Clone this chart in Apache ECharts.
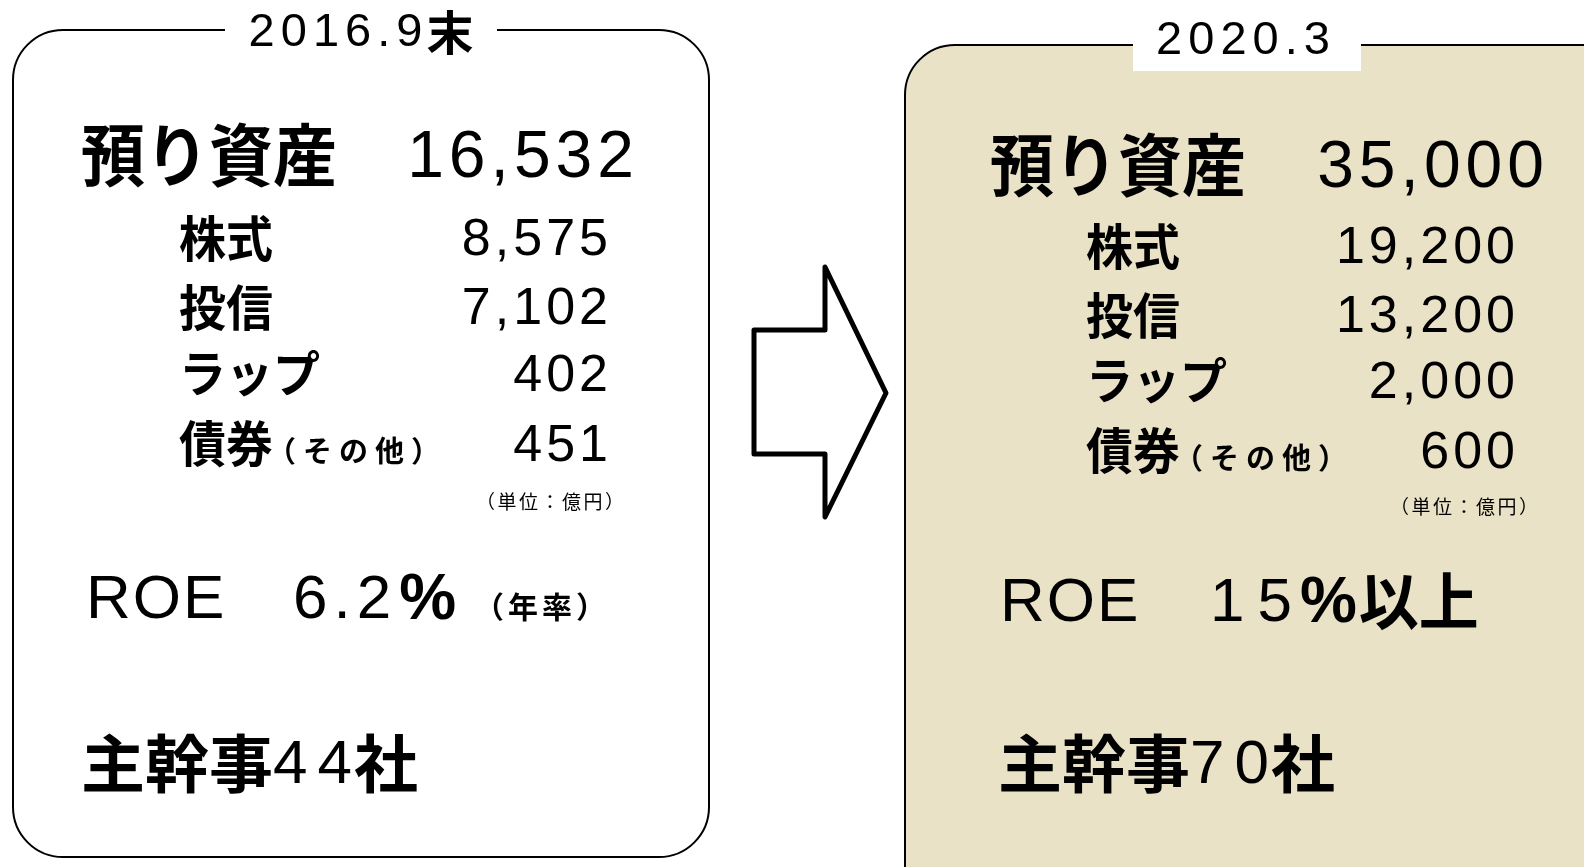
<!DOCTYPE html>
<html><head><meta charset="utf-8">
<script src="https://cdn.jsdelivr.net/npm/echarts@6/dist/echarts.min.js"></script>
<style>html,body{margin:0;padding:0;background:#fff}#c{width:1584px;height:867px}</style>
</head><body><div id="c"></div>
<script>
// ---- data ----
const periods = ['2016.9末', '2020.3'];
const totalLabel = '預り資産';
const assetCategories = ['株式', '投信', 'ラップ', '債券'];
const bondNote = '（その他）';
const unitNote = '（単位：億円）';
const totalAssets = [16532, 35000];
const assets2016 = [8575, 7102, 402, 451];
const assets2020 = [19200, 13200, 2000, 600];
const roeLabel = 'ROE';
const roeValues = ['6.2', '15'];
const roeSuffix = ['（年率）', '以上'];
const leadLabel = '主幹事';
const leadManagers = [44, 70];
const leadUnit = '社';

// ---- layout ----
const SANS = '"Liberation Sans", Arial, sans-serif';
const CJK = '"Noto Sans CJK JP", sans-serif';
const cv = document.createElement('canvas').getContext('2d');
function fontStr(p){ return (p.w||'normal') + ' ' + p.size + 'px ' + (p.fam==='cjk'?CJK:SANS); }
function measure(p){
  cv.font = fontStr(p);
  let w = 0; const chars = Array.from(p.t);
  chars.forEach((ch,i)=>{ w += cv.measureText(ch).width + (i<chars.length-1 ? (p.sp||0) : 0); });
  return w;
}
const els = [];
function piece(p, x, y){
  cv.font = fontStr(p);
  const sy = p.sy || 1;
  Array.from(p.t).forEach(ch=>{
    els.push({type:'text', x:x, y:y+(p.dy||0), z:10, scaleY:sy,
      style:{text:ch, fontSize:p.size, fontFamily:(p.fam==='cjk'?CJK:SANS), fontWeight:(p.w||'normal'),
        fill:'#000', align:'left', verticalAlign:'middle'}});
    x += cv.measureText(ch).width + (p.sp||0);
  });
  return x - (p.sp||0);
}
function flow(x, y, pieces){
  pieces.forEach(p=>{ x += (p.gap||0); x = piece(p, x, y); });
  return x;
}
function flowRight(right, y, pieces){
  let w = 0; pieces.forEach(p=>{ w += (p.gap||0) + measure(p); });
  return flow(right - w, y, pieces);
}
const fmt = v => v.toLocaleString('en-US');

const L = [
  {title:{cx:361, y:33, bg:[225,8,272,44]}, tl:{x:81,y:155}, tv:{r:634,y:159},
   rows:{x:179, ys:[238,307,373,443], vys:[241,310,377,447], r:608}, unit:{r:624,y:502},
   roe:{x:86,y:601,vx:293,sp:6}, lead:{x:81,y:763},
   box:{x:13,y:30,w:696,h:827,fill:'#ffffff'}},
  {title:{cx:1243, y:41, bg:[1133,12,228,59]}, tl:{x:990,y:165}, tv:{r:1544,y:169},
   rows:{x:1086, ys:[246,315,380,450], vys:[249,318,384,454], r:1515}, unit:{r:1538,y:507},
   roe:{x:1000,y:604,vx:1210,sp:13}, lead:{x:998,y:763},
   box:{x:905,y:45,w:740,h:900,fill:'#EAE2C7'}}
];
const breakdowns = [assets2016, assets2020];

L.forEach((g, i)=>{
  els.push({type:'rect', z:1, shape:{x:g.box.x, y:g.box.y, width:g.box.w, height:g.box.h, r:50},
    style:{fill:g.box.fill, stroke:'#000', lineWidth:2}});
  els.push({type:'rect', z:2, shape:{x:g.title.bg[0], y:g.title.bg[1], width:g.title.bg[2], height:g.title.bg[3]},
    style:{fill:'#fff'}});
  // title
  const tStr = periods[i];
  const m = tStr.match(/^([0-9.]+)(.*)$/);
  const tp = [{t:m[1], size:47, sp:6}];
  if (m[2]) tp.push({t:m[2], size:47, fam:'cjk', w:'bold', gap:4, dy:-1});
  let tw = 0; tp.forEach(p=>{ tw += (p.gap||0) + measure(p); });
  flow(g.title.cx - tw/2, g.title.y, tp);
  // total
  flow(g.tl.x, g.tl.y, [{t:totalLabel, size:64, fam:'cjk', w:'bold', sy:1.06}]);
  flowRight(g.tv.r, g.tv.y, [{t:fmt(totalAssets[i]), size:66, sp:5}]);
  // rows
  assetCategories.forEach((c, k)=>{
    const ps = [{t:c, size:47, fam:'cjk', w:'bold', sy:1.04}];
    if (k === 3) ps.push({t:bondNote, size:29, fam:'cjk', w:'bold', dy:8, sp:7, gap:-6});
    flow(g.rows.x, g.rows.ys[k], ps);
    flowRight(g.rows.r, g.rows.vys[k], [{t:fmt(breakdowns[i][k]), size:52, sp:4}]);
  });
  flowRight(g.unit.r, g.unit.y, [{t:unitNote, size:19, fam:'cjk', sp:2.5}]);
  // ROE
  flow(g.roe.x, g.roe.y, [{t:roeLabel, size:62, sp:2}]);
  const rp = [{t:roeValues[i], size:62, sp:g.roe.sp}, {t:'%', size:64, w:'bold', gap:8}];
  if (i === 0) rp.push({t:roeSuffix[i], size:30, fam:'cjk', w:'bold', gap:18, dy:6, sp:4});
  else rp.push({t:roeSuffix[i], size:60, fam:'cjk', w:'bold', gap:2, sy:1.04, dy:-3});
  flow(g.roe.vx, g.roe.y, rp);
  // lead managers
  flow(g.lead.x, g.lead.y, [
    {t:leadLabel, size:64, fam:'cjk', w:'bold', sy:0.98},
    {t:String(leadManagers[i]), size:62, sp:10, gap:0, dy:3},
    {t:leadUnit, size:64, fam:'cjk', w:'bold', gap:2, sy:0.98}
  ]);
});

// arrow
els.push({type:'polygon', z:5, shape:{points:[[754,330],[825,330],[825,267],[886,393],[825,517],[825,454],[754,454]]},
  style:{fill:'#fff', stroke:'#000', lineWidth:5, lineJoin:'round'}});

const chart = echarts.init(document.getElementById('c'), null, {renderer:'canvas'});
chart.setOption({backgroundColor:'#fff', animation:false, graphic:{elements:els}});
</script></body></html>
